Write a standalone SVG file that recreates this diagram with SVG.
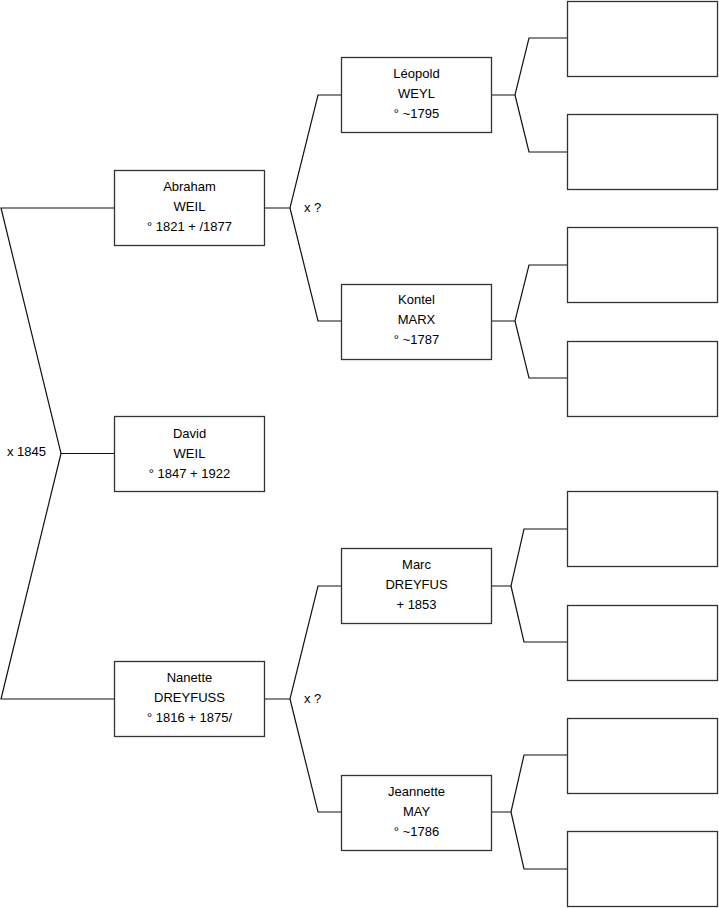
<svg xmlns="http://www.w3.org/2000/svg" width="719" height="908" viewBox="0 0 719 908">
<style>
.box{fill:#fff;stroke:#333;stroke-width:1.3}
.ln{fill:none;stroke:#111;stroke-width:1.2}
text{font-family:"Liberation Sans",Arial,sans-serif;font-size:13px;fill:#000}
.c{text-anchor:middle}
</style>
<rect width="719" height="908" fill="#fff"/>
<g id="connectors">
<polyline class="ln" points="114,453.5 61,453.5 1,208 114,208"/>
<polyline class="ln" points="61,453.5 1,699 114,699"/>
<polyline class="ln" points="265,208 290,208 318,95 341,95"/>
<polyline class="ln" points="290,208 318,321 341,321"/>
<polyline class="ln" points="265,699 290,699 318,586 341,586"/>
<polyline class="ln" points="290,699 318,812 341,812"/>
<polyline class="ln" points="491,95 515,95 529,38 567,38"/>
<polyline class="ln" points="515,95 529,152 567,152"/>
<polyline class="ln" points="491,321 515,321 529,265 567,265"/>
<polyline class="ln" points="515,321 529,378 567,378"/>
<polyline class="ln" points="491,586 511,586 524,529 567,529"/>
<polyline class="ln" points="511,586 524,642 567,642"/>
<polyline class="ln" points="491,812 511,812 524,755 567,755"/>
<polyline class="ln" points="511,812 524,869 567,869"/>
<text x="7" y="456">x 1845</text>
<text x="304" y="212">x ?</text>
<text x="304" y="702.5">x ?</text>
</g>
<g id="david"><rect class="box" x="114.5" y="416.5" width="150" height="75"/>
<text class="c" x="189.5" y="437.5">David</text><text class="c" x="189.5" y="457.5">WEIL</text><text class="c" x="189.5" y="477.5">° 1847 + 1922</text></g>
<g id="abraham"><rect class="box" x="114.5" y="170.5" width="150" height="75"/>
<text class="c" x="189.5" y="190.5">Abraham</text><text class="c" x="189.5" y="210.5">WEIL</text><text class="c" x="189.5" y="230.5">° 1821 + /1877</text></g>
<g id="nanette"><rect class="box" x="114.5" y="661.5" width="150" height="75"/>
<text class="c" x="189.5" y="681.5">Nanette</text><text class="c" x="189.5" y="701.5">DREYFUSS</text><text class="c" x="189.5" y="721.5">° 1816 + 1875/</text></g>
<g id="leopold"><rect class="box" x="341.5" y="57.5" width="150" height="75"/>
<text class="c" x="416.5" y="77.5">Léopold</text><text class="c" x="416.5" y="97.5">WEYL</text><text class="c" x="416.5" y="117.5">° ~1795</text></g>
<g id="kontel"><rect class="box" x="341.5" y="284.5" width="150" height="75"/>
<text class="c" x="416.5" y="303.5">Kontel</text><text class="c" x="416.5" y="323.5">MARX</text><text class="c" x="416.5" y="343.5">° ~1787</text></g>
<g id="marc"><rect class="box" x="341.5" y="548.5" width="150" height="75"/>
<text class="c" x="416.5" y="568.5">Marc</text><text class="c" x="416.5" y="588.5">DREYFUS</text><text class="c" x="416.5" y="608.5">+ 1853</text></g>
<g id="jeannette"><rect class="box" x="341.5" y="775.5" width="150" height="75"/>
<text class="c" x="416.5" y="795.5">Jeannette</text><text class="c" x="416.5" y="815.5">MAY</text><text class="c" x="416.5" y="835.5">° ~1786</text></g>
<g id="e1"><rect class="box" x="567.5" y="1.5" width="150" height="75"/></g>
<g id="e2"><rect class="box" x="567.5" y="114.5" width="150" height="75"/></g>
<g id="e3"><rect class="box" x="567.5" y="227.5" width="150" height="75"/></g>
<g id="e4"><rect class="box" x="567.5" y="341.5" width="150" height="75"/></g>
<g id="e5"><rect class="box" x="567.5" y="491.5" width="150" height="75"/></g>
<g id="e6"><rect class="box" x="567.5" y="605.5" width="150" height="75"/></g>
<g id="e7"><rect class="box" x="567.5" y="718.5" width="150" height="75"/></g>
<g id="e8"><rect class="box" x="567.5" y="831.5" width="150" height="75"/></g>
</svg>
